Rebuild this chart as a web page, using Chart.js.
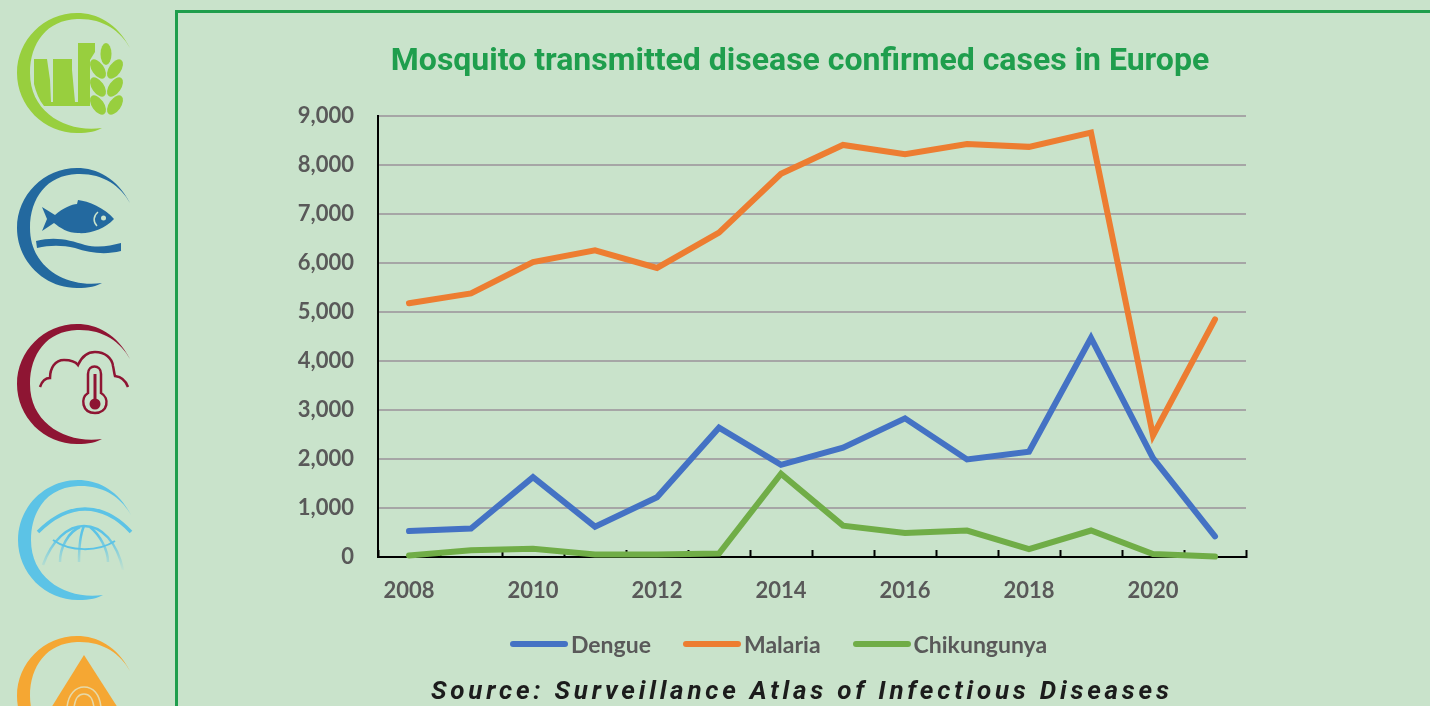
<!DOCTYPE html>
<html>
<head>
<meta charset="utf-8">
<title>Mosquito transmitted disease confirmed cases in Europe</title>
<script src="https://cdn.jsdelivr.net/npm/chart.js@4/dist/chart.umd.min.js"></script>
<style>
    html, body { margin: 0; padding: 0; width: 1430px; height: 706px; overflow: hidden; background: #c9e3cb; }
    #frame { position: absolute; left: 175px; top: 10px; width: 1300px; height: 800px; box-sizing: border-box; border: 3.5px solid #1f9e4d; }
    #chart { position: absolute; left: 0; top: 0; }
    #logos { position: absolute; left: 0; top: 0; }
    #legend {
        position: absolute; left: 510px; top: 630px; height: 28px; display: flex; align-items: center;
        font: 700 23px Lato, sans-serif; color: #595959; white-space: nowrap;
    }
    #legend .item { display: flex; align-items: center; margin-right: 32px; }
    #legend .swatch { width: 58px; height: 6px; border-radius: 3px; margin-right: 3px; }
    #source {
        position: absolute; left: 431px; top: 675px; white-space: nowrap;
        font: italic 700 26px Roboto, sans-serif; letter-spacing: 3.78px; color: #1c1c1c;
    }
</style>
</head>
<body>
<div id="frame"></div>

<!-- Side logos -->
<svg id="logos" width="175" height="706" viewBox="0 0 175 706">
    <defs>
        <path id="crescent" d="M113,35 C100,10 80,0 60,0 C27,0 0,27 0,60 C0,93 27,120 60,120 C72,120 80,118 85,115 C50,120 13,100 13,60 C13,30 30,7 60,6 C85,5 103,17 113,35 Z"/>
        <linearGradient id="fade" gradientUnits="userSpaceOnUse" x1="0" y1="535" x2="0" y2="572">
            <stop offset="0" stop-color="#5cc3e6"/>
            <stop offset="1" stop-color="#5cc3e6" stop-opacity="0"/>
        </linearGradient>
    </defs>

    <!-- city and wheat -->
    <g fill="#98cf3e">
        <use href="#crescent" x="17" y="13"/>
        <path d="M34,59 L47,59 L50,80 L51,102 L53,102 L53,59 L72,59 L72,70 L75,102 L78,102 L78,43 L95,43 L95,52 L90,60 L90,106 L44,106 C39,100 36,92 34,84 Z"/>
        <ellipse cx="106" cy="54" rx="5.500" ry="11"/>
        <ellipse cx="98" cy="69" rx="6" ry="11" transform="rotate(-35 98 69)"/>
        <ellipse cx="115" cy="69" rx="6" ry="11" transform="rotate(35 115 69)"/>
        <ellipse cx="98" cy="87" rx="6" ry="11" transform="rotate(-35 98 87)"/>
        <ellipse cx="115" cy="87" rx="6" ry="11" transform="rotate(35 115 87)"/>
        <ellipse cx="98" cy="105" rx="6" ry="11" transform="rotate(-35 98 105)"/>
        <ellipse cx="115" cy="105" rx="6" ry="11" transform="rotate(35 115 105)"/>
    </g>

    <!-- fish -->
    <g fill="#23699f">
        <use href="#crescent" x="17" y="168"/>
        <path d="M42,207 L55,215 C63,208 72,204 77,204 L78,200 C88,201 105,208 114,219 C105,229 90,234 78,233 C68,233 60,228 54,223 L42,231 L47,219 Z"/>
        <circle cx="103.500" cy="218" r="2.500" fill="#c9e3cb"/>
        <path d="M98,212 C93,216 93,222 97,226" fill="none" stroke="#c9e3cb" stroke-width="1.500"/>
        <path d="M36,241 C55,236 70,240 85,245 C98,248 110,246 121,243 L121,251 C105,255 90,253 75,248 C62,245 50,245 37,248 Z"/>
    </g>

    <!-- cloud and thermometer -->
    <g fill="none" stroke="#8e1533" stroke-width="2.500">
        <use href="#crescent" x="17" y="324" fill="#8e1533" stroke="none"/>
        <path d="M40,387 C42,381 46,378 50,378 C50,368 55,360 64,360 C70,360 75,361 78,365 C82,356 88,352 95,352 C105,352 112,358 113,366 C114,370 114,373 115,376 C122,377 126,381 128,387"/>
        <path d="M88,393 L88,374 C88,364 101,364 101,374 L101,393 C110,398 108,413 95,413 C82,413 80,398 88,393 Z"/>
        <path d="M95,374 L95,400" stroke-width="3"/>
        <circle cx="95" cy="404" r="5.500" fill="#8e1533" stroke="none"/>
    </g>

    <!-- globe -->
    <g fill="none" stroke="#5cc3e6" stroke-width="2.500">
        <use href="#crescent" x="18" y="480" fill="#5cc3e6" stroke="none"/>
        <path d="M38,532 C55,515 70,509 85,509 C103,509 118,518 131,532" stroke-width="3.500"/>
        <g stroke="url(#fade)">
            <path d="M43,565 C52,540 68,526 84,526 C102,526 117,542 123,570"/>
            <path d="M60,562 C60,548 68,532 80,527"/>
            <path d="M79,562 C79,548 80,535 84,526"/>
            <path d="M108,562 C108,550 100,535 90,527"/>
        </g>
        <path d="M53,540 C70,552 98,552 115,541" stroke-width="2"/>
    </g>

    <!-- droplet -->
    <g fill="#f5a733">
        <use href="#crescent" x="17" y="636"/>
        <path d="M84,655 L118,708 L51,708 Z"/>
        <g fill="none" stroke="#e6d9a8" stroke-width="1.500">
            <path d="M67,708 C68,694 76,687 84,687 C93,687 100,694 101,708"/>
            <path d="M74,708 C75,698 79,694 84,694 C89,694 93,698 94,708"/>
        </g>
    </g>
</svg>

<canvas id="chart" width="1430" height="706"></canvas>
<div id="legend"></div>
<div id="source">Source: Surveillance Atlas of Infectious Diseases</div>

<script>
const years = ['2008', '2009', '2010', '2011', '2012', '2013', '2014', '2015', '2016', '2017', '2018', '2019', '2020', '2021'];
const dengue = [530, 580, 1630, 620, 1220, 2640, 1880, 2230, 2830, 1990, 2150, 4470, 2020, 420];
const malaria = [5180, 5380, 6020, 6260, 5900, 6620, 7820, 8410, 8220, 8430, 8370, 8660, 2480, 4850];
const chikungunya = [30, 140, 170, 50, 50, 70, 1700, 640, 490, 540, 160, 540, 60, 10];

const labelFont = { family: 'Lato, sans-serif', size: 22, weight: '700' };

function lineSeries(label, data, color) {
    return {
        label: label,
        data: data,
        borderColor: color,
        backgroundColor: color,
        borderWidth: 6,
        borderCapStyle: 'round',
        borderJoinStyle: 'miter',
        pointRadius: 0,
        tension: 0,
        clip: false
    };
}

// The title is centred on the frame, not on the plot
const centreTitle = {
    id: 'centreTitle',
    afterLayout(chart) {
        chart.titleBlock.left = 300;
        chart.titleBlock.right = 1300;
    }
};

const chart = new Chart(document.getElementById('chart'), {
    type: 'line',
    data: {
        labels: years,
        datasets: [
            lineSeries('Dengue', dengue, '#4472c4'),
            lineSeries('Malaria', malaria, '#ed7d31'),
            lineSeries('Chikungunya', chikungunya, '#70ad47')
        ]
    },
    plugins: [centreTitle],
    options: {
        responsive: false,
        animation: false,
        layout: { padding: { top: 43, right: 184, bottom: 0, left: 0 } },
        plugins: {
            title: {
                display: true,
                text: 'Mosquito transmitted disease confirmed cases in Europe',
                color: '#1f9e4d',
                font: { family: 'Roboto, sans-serif', size: 32, weight: '700' },
                padding: { top: 0, bottom: 34.6 }
            },
            legend: { display: false },
            tooltip: { enabled: false }
        },
        scales: {
            x: {
                offset: true,
                afterFit: scale => { scale.height = 149; },
                grid: {
                    offset: true,
                    drawOnChartArea: false,
                    tickLength: -7,
                    tickWidth: 2,
                    tickColor: '#000000'
                },
                border: { color: '#000000', width: 2 },
                ticks: {
                    color: '#595959',
                    font: labelFont,
                    padding: 28,
                    autoSkip: false,
                    maxRotation: 0,
                    callback: function (value, index) {
                        return index % 2 === 0 ? this.getLabelForValue(value) : '';
                    }
                }
            },
            y: {
                min: 0,
                max: 9000,
                afterFit: scale => { scale.width = 378; },
                grid: { color: '#a6a6a6', lineWidth: 2, drawTicks: false },
                border: { color: '#000000', width: 2 },
                ticks: {
                    color: '#595959',
                    font: labelFont,
                    padding: 24,
                    stepSize: 1000,
                    callback: value => value.toLocaleString('en-US')
                }
            }
        }
    }
});

// Legend built from the chart's datasets
const legendBox = document.getElementById('legend');
chart.data.datasets.forEach(ds => {
    const item = document.createElement('div');
    item.className = 'item';
    const swatch = document.createElement('span');
    swatch.className = 'swatch';
    swatch.style.background = ds.borderColor;
    item.appendChild(swatch);
    item.appendChild(document.createTextNode(ds.label));
    legendBox.appendChild(item);
});
</script>
</body>
</html>
